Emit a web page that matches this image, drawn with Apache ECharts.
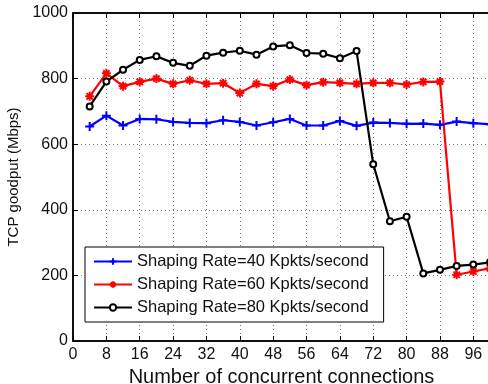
<!DOCTYPE html>
<html>
<head>
<meta charset="utf-8">
<script src="https://cdn.jsdelivr.net/npm/echarts@6/dist/echarts.min.js"></script>
<style>html,body{margin:0;padding:0;background:#fff}#c{width:488px;height:384px}</style>
</head>
<body>
<div id="c"></div>
<script>
const connections = [4,8,12,16,20,24,28,32,36,40,44,48,52,56,60,64,68,72,76,80,84,88,92,96,100];
const rate40 = [654,687,657,677,676,668,665,664,673,668,657,667,677,657,657,671,656,666,665,662,663,659,669,664,661];
const rate60 = [746,816,777,790,800,784,795,784,786,756,784,777,797,780,789,787,784,787,787,782,790,791,202,212,222];
const rate80 = [715,791,827,857,868,848,839,870,879,885,873,898,902,878,876,862,884,539,365,379,206,217,229,233,240];
const seriesNames = ['Shaping Rate=40 Kpkts/second','Shaping Rate=60 Kpkts/second','Shaping Rate=80 Kpkts/second'];
const xTicks = {min:0, max:100, interval:8};
const yTicks = {min:0, max:1000, interval:200};

const FONT = '"Liberation Sans", Arial, Helvetica, sans-serif';
const plus = 'path://M0,5L10,5M5,0L5,10';
const star = 'path://M0,5L10,5M5,0L5,10M1.5,1.5L8.5,8.5M1.5,8.5L8.5,1.5';

function pairs(vals){ return connections.map((c,i)=>[c, vals[i]]); }

const chart = echarts.init(document.getElementById('c'), null, {renderer:'canvas'});
const gridLine = {show:true, lineStyle:{color:'#777', type:[1,3], width:1}};
chart.setOption({
  animation:false,
  backgroundColor:'#fff',
  textStyle:{fontFamily:FONT},
  grid:{left:73, right:-2, top:13, bottom:43, outerBoundsMode:'none', containLabel:false,
    show:true, borderColor:'#000', borderWidth:1.5, backgroundColor:'transparent'},
  legend:{
    orient:'vertical', left:85, top:247,
    backgroundColor:'#fff', borderColor:'#000', borderWidth:1,
    padding:[6,15,6,8], itemWidth:38, itemHeight:8, itemGap:6,
    textStyle:{fontSize:16.5, color:'#111', fontFamily:FONT},
    data:seriesNames
  },
  xAxis:[{
    type:'value', min:xTicks.min, max:xTicks.max, interval:xTicks.interval,
    name:'Number of concurrent connections', nameLocation:'middle', nameGap:23,
    nameTextStyle:{fontSize:20, color:'#111', fontFamily:FONT},
    axisLine:{show:true, lineStyle:{color:'#000', width:1.5}},
    axisTick:{show:true, inside:true, length:5, lineStyle:{color:'#000'}},
    axisLabel:{fontSize:16, color:'#111', margin:6, fontFamily:FONT,
      formatter:v => (v % 8 === 0 && v <= 96) ? String(v) : ''},
    splitLine:gridLine
  },{
    type:'value', position:'top', min:xTicks.min, max:xTicks.max, interval:xTicks.interval,
    axisLine:{show:true, lineStyle:{color:'#000', width:1.5}},
    axisTick:{show:true, inside:true, length:5, lineStyle:{color:'#000'}},
    axisLabel:{show:false}, splitLine:{show:false}
  }],
  yAxis:{
    type:'value', min:yTicks.min, max:yTicks.max, interval:yTicks.interval,
    name:'TCP goodput (Mbps)', nameLocation:'middle', nameGap:41,
    nameTextStyle:{fontSize:15, color:'#111', fontFamily:FONT},
    axisLine:{show:true, lineStyle:{color:'#000', width:1.5}},
    axisTick:{show:true, inside:true, length:5, lineStyle:{color:'#000'}},
    axisLabel:{fontSize:16, color:'#111', margin:5, fontFamily:FONT, formatter:v => String(v)},
    splitLine:gridLine
  },
  series:[
    {name:seriesNames[0], type:'line', data:pairs(rate40), symbol:plus, symbolSize:9,
     lineStyle:{color:'#0000ff', width:2.2}, itemStyle:{color:'#0000ff', borderColor:'#0000ff', borderWidth:2}},
    {name:seriesNames[1], type:'line', data:pairs(rate60), symbol:star, symbolSize:9,
     lineStyle:{color:'#ff0000', width:2.2}, itemStyle:{color:'#ff0000', borderColor:'#ff0000', borderWidth:2}},
    {name:seriesNames[2], type:'line', data:pairs(rate80), symbol:'emptyCircle', symbolSize:6,
     lineStyle:{color:'#000', width:2.2}, itemStyle:{color:'#000', borderColor:'#000', borderWidth:2.2}}
  ]
});
</script>
</body>
</html>
